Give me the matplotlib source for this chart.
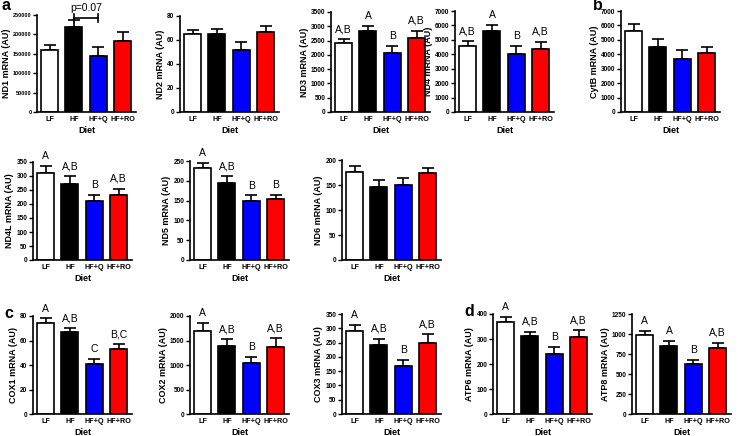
import matplotlib.pyplot as plt
from matplotlib.ticker import FormatStrFormatter

plt.rcParams["font.family"] = ["Liberation Sans", "DejaVu Sans"]

groups = ["LF", "HF", "HF+Q", "HF+RO"]
bar_colors = ["white", "black", "#0000ff", "#ff0000"]

# means and SEM
nd1 = [160000, 220000, 145000, 183000]
nd1_sem = [12000, 18000, 22000, 23000]
nd2 = [65, 65, 52, 67]
nd2_sem = [3, 4, 6, 5]
nd3 = [2400, 2850, 2050, 2600]
nd3_sem = [150, 170, 250, 250]
nd3_sig = ["A,B", "A", "B", "A,B"]
nd4 = [4600, 5600, 4000, 4400]
nd4_sem = [300, 400, 550, 450]
nd4_sig = ["A,B", "A", "B", "A,B"]
cytb = [5600, 4500, 3700, 4100]
cytb_sem = [500, 550, 600, 400]
nd4l = [310, 272, 212, 233]
nd4l_sem = [25, 27, 20, 22]
nd4l_sig = ["A", "A,B", "B", "A,B"]
nd5 = [232, 195, 148, 153]
nd5_sem = [13, 16, 15, 12]
nd5_sig = ["A", "A,B", "B", "B"]
nd6 = [176, 147, 150, 174]
nd6_sem = [13, 13, 15, 10]
cox1 = [74, 67, 41, 53]
cox1_sem = [4, 3, 4, 4]
cox1_sig = ["A", "A,B", "C", "B,C"]
cox2 = [1700, 1380, 1050, 1370]
cox2_sem = [150, 150, 120, 180]
cox2_sig = ["A", "A,B", "B", "A,B"]
cox3 = [290, 242, 168, 250]
cox3_sem = [20, 22, 20, 30]
cox3_sig = ["A", "A,B", "B", "A,B"]
atp6 = [368, 312, 240, 310]
atp6_sem = [22, 18, 28, 25]
atp6_sig = ["A", "A,B", "B", "A,B"]
atp8 = [990, 850, 620, 820]
atp8_sem = [50, 60, 60, 70]
atp8_sig = ["A", "A", "B", "A,B"]

W, H = 738, 436
fig = plt.figure(figsize=(W / 100, H / 100), dpi=100)


def panel(left, top, bottom, ylabel, vals, errs, sig, ymax, step, ysize=4.7):
    ax = fig.add_axes([left / W, (H - bottom) / H, 99 / W, (bottom - top) / H])
    x = range(len(groups))
    ax.bar(x, vals, width=0.7, color=bar_colors, edgecolor="black", linewidth=1.2, zorder=2)
    for i in x:
        ax.errorbar(i, vals[i], yerr=[[0], [errs[i]]], color="black", capsize=4,
                    elinewidth=1.2, capthick=1.2, zorder=1)
        if sig:
            ax.text(i, vals[i] + errs[i] + ymax * 0.05, sig[i], ha="center", va="bottom",
                    fontsize=7.5)
    ax.set_xlim(-0.52, 3.55)
    ax.set_ylim(0, ymax)
    ax.set_yticks(range(0, ymax + 1, step))
    ax.yaxis.set_major_formatter(FormatStrFormatter("%d"))
    ax.set_xticks(list(x))
    ax.set_xticklabels(groups)
    ax.tick_params(axis="x", length=0, pad=3, labelsize=5.2)
    ax.tick_params(axis="y", length=3, width=1, pad=1, labelsize=ysize)
    for lab in ax.get_xticklabels() + ax.get_yticklabels():
        lab.set_fontweight("bold")
    for s in ["top", "right"]:
        ax.spines[s].set_visible(False)
    for s in ["left", "bottom"]:
        ax.spines[s].set_linewidth(1.2)
    ax.set_ylabel(ylabel, fontsize=6.5, fontweight="bold", labelpad=1.5)
    ax.set_xlabel("Diet", fontsize=6.5, fontweight="bold", labelpad=2)
    return ax


ax1 = panel(37, 15, 112, "ND1 mRNA (AU)", nd1, nd1_sem, None, 250000, 50000, ysize=4.0)
panel(180, 16, 112, "ND2 mRNA (AU)", nd2, nd2_sem, None, 80, 20)
panel(331, 12, 112, "ND3 mRNA (AU)", nd3, nd3_sem, nd3_sig, 3500, 500)
panel(455, 11, 112, "ND4 mRNA (AU)", nd4, nd4_sem, nd4_sig, 7000, 1000)
panel(621, 11, 112, "CytB mRNA (AU)", cytb, cytb_sem, None, 7000, 1000)

panel(33, 162, 260, "ND4L mRNA (AU)", nd4l, nd4l_sem, nd4l_sig, 350, 50)
panel(190, 161, 260, "ND5 mRNA (AU)", nd5, nd5_sem, nd5_sig, 250, 50)
panel(342, 160, 260, "ND6 mRNA (AU)", nd6, nd6_sem, None, 200, 50)

panel(33, 316, 414, "COX1 mRNA (AU)", cox1, cox1_sem, cox1_sig, 80, 20)
panel(190, 316, 414, "COX2 mRNA (AU)", cox2, cox2_sem, cox2_sig, 2000, 500)
panel(342, 314, 414, "COX3 mRNA (AU)", cox3, cox3_sem, cox3_sig, 350, 50)
panel(493, 314, 414, "ATP6 mRNA (AU)", atp6, atp6_sem, atp6_sig, 400, 100)
panel(632, 314, 414, "ATP8 mRNA (AU)", atp8, atp8_sem, atp8_sig, 1250, 250)

ax1.yaxis.set_label_coords(-0.263, 0.5)

# p-value bracket between HF and HF+Q
ax1.plot([1, 2], [243000, 243000], color="black", lw=1.2, clip_on=False)
for xb in [1, 2]:
    ax1.plot([xb, xb], [233000, 253000], color="black", lw=1.2, clip_on=False)
ax1.text(1.5, 256000, "p=0.07", ha="center", va="bottom", fontsize=7.5)

for letter, px, py in [("a", 2, 6), ("b", 593, 6), ("c", 4, 313), ("d", 464, 311)]:
    fig.text(px / W, 1 - py / H, letter, fontsize=11.5, fontweight="bold", va="center")

fig.savefig("out.png", dpi=100)
